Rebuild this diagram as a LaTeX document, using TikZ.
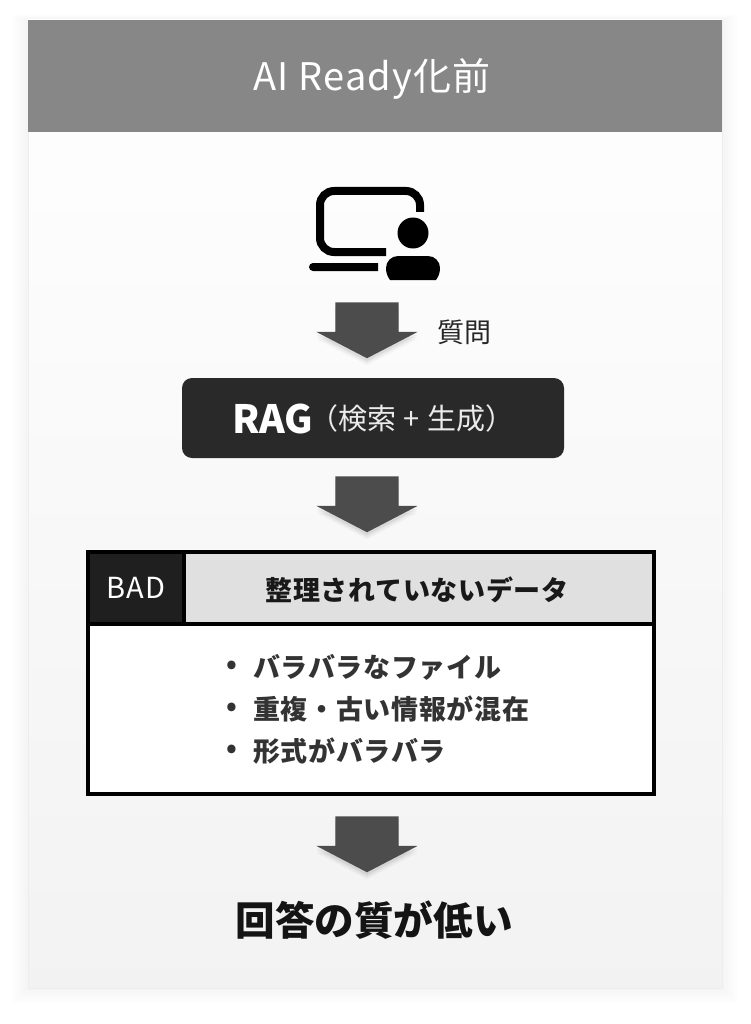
\documentclass[tikz,border=0pt]{standalone}
\usepackage{fontspec}
\setmainfont{Noto Sans CJK JP}
\newfontfamily\itemfont[LetterSpace=2.5]{Noto Sans CJK JP}
\newfontfamily\titlefont[LetterSpace=3.2]{Noto Sans CJK JP}
\usepackage{tikz}
\usetikzlibrary{shapes.arrows}
\usetikzlibrary{shadows}

\begin{document}
\begin{tikzpicture}
        [
            x = 1pt, y = -1pt,
            card/.style = {rectangle, inner sep=0pt, minimum width=694pt, minimum height=968pt, draw=black!7, line width=.8pt, top color=white, bottom color=black!5},
            band/.style = {rectangle, inner sep=0pt, minimum width=694pt, minimum height=112pt, fill=black!47},
            downarrow/.style = {single arrow, shape border rotate=270, inner sep=0pt, minimum height=56pt, minimum width=101pt, single arrow head extend=19pt, single arrow tip angle=125, fill=black!70,
                general shadow={shadow xshift=0pt, shadow yshift=-7pt, fill=black, fill opacity=.03},
                general shadow={shadow xshift=0pt, shadow yshift=-5pt, fill=black, fill opacity=.04},
                general shadow={shadow xshift=0pt, shadow yshift=-3pt, fill=black, fill opacity=.06}},
            cell/.style = {rectangle, inner sep=0pt, draw=black, line width=4pt},
            item/.style = {anchor=west, inner sep=0pt, font=\fontsize{27}{30}\itemfont\bfseries\selectfont, text=black!80}
        ]
        \useasboundingbox (0, 0) rectangle (750, 1024);

        % card
        \foreach \s in {3,6,...,15} {
            \fill [black, opacity=.006] (28-\s, 20-\s/3) rectangle (722+\s, 988+\s);
        }
        \node [card] at (375, 504) (card) {};
        \node [band] at (375, 76) (band) {};
        \node [inner sep=0pt, text=white, font=\fontsize{38}{42}\titlefont\selectfont] at (372, 79) (title) {AI Ready化前};

        % icon
        \draw [line width=8pt] (420, 212) -- (420, 205) arc [start angle=0, end angle=-90, radius=14] -- (334, 191) arc [start angle=270, end angle=180, radius=14] -- (320, 238) arc [start angle=180, end angle=90, radius=14] -- (386, 252);
        \fill (378, 263) -- (313, 263) arc [start angle=270, end angle=90, radius=4] -- (378, 271) -- cycle;
        \fill (413, 233) circle [radius=15.5];
        \fill (390, 280) .. controls (387, 276) and (386, 272) .. (386, 268) arc [start angle=180, end angle=270, radius=12] -- (428, 256) arc [start angle=270, end angle=360, radius=12] .. controls (440, 272) and (439, 276) .. (436, 280) -- cycle;

        \node [downarrow] at (367, 322) (arrow1) {\hspace*{63pt}};
        \node [font=\fontsize{27}{30}\selectfont, text=black!85, inner sep=0pt] at (464, 332) (ask) {質問};

        % rag
        \node [rectangle, rounded corners=10pt, inner sep=0pt, minimum width=382pt, minimum height=80pt, fill=black!84] at (373, 418) (rag) {};
        \node [anchor=west, inner sep=0pt, text=white, font=\fontsize{39}{44}\bfseries\selectfont] at (232, 419) (ragname) {RAG};
        \node [anchor=west, inner sep=0pt, text=white!92!black, font=\fontsize{29}{30}\selectfont] at (309, 418) (ragtext) {（検索\hspace{7.5pt}+\hspace{7.5pt}生成）};

        \node [downarrow] at (367, 496) (arrow2) {\hspace*{63pt}};

        % table
        \node [cell, fill=white, minimum width=566pt, minimum height=242pt] at (371, 673) (body) {};
        \node [cell, fill=black!12, minimum width=566pt, minimum height=72pt] at (371, 588) (head) {};
        \node [cell, fill=black!88, minimum width=96pt, minimum height=72pt, text=white, font=\fontsize{29}{30}\itemfont\selectfont] at (136, 588) (bad) {BAD};
        \node [inner sep=0pt, font=\fontsize{27}{30}\itemfont\bfseries\selectfont, text=black!90] at (417, 590) (headtext) {整理されていないデータ};

        \node [item] at (226, 667) (bullet1) {•};
        \node [item] at (253, 667) (item1) {バラバラなファイル};
        \node [item] at (226, 709) (bullet2) {•};
        \node [item] at (253, 709) (item2) {重複・古い情報が混在};
        \node [item] at (226, 751) (bullet3) {•};
        \node [item] at (253, 751) (item3) {形式がバラバラ};

        \node [downarrow] at (367, 836) (arrow3) {\hspace*{63pt}};
        \node [inner sep=0pt, font=\fontsize{39.6}{44}\bfseries\selectfont, text=black!92] at (374, 920) (answer) {回答の質が低い};
    \end{tikzpicture}
\end{document}
